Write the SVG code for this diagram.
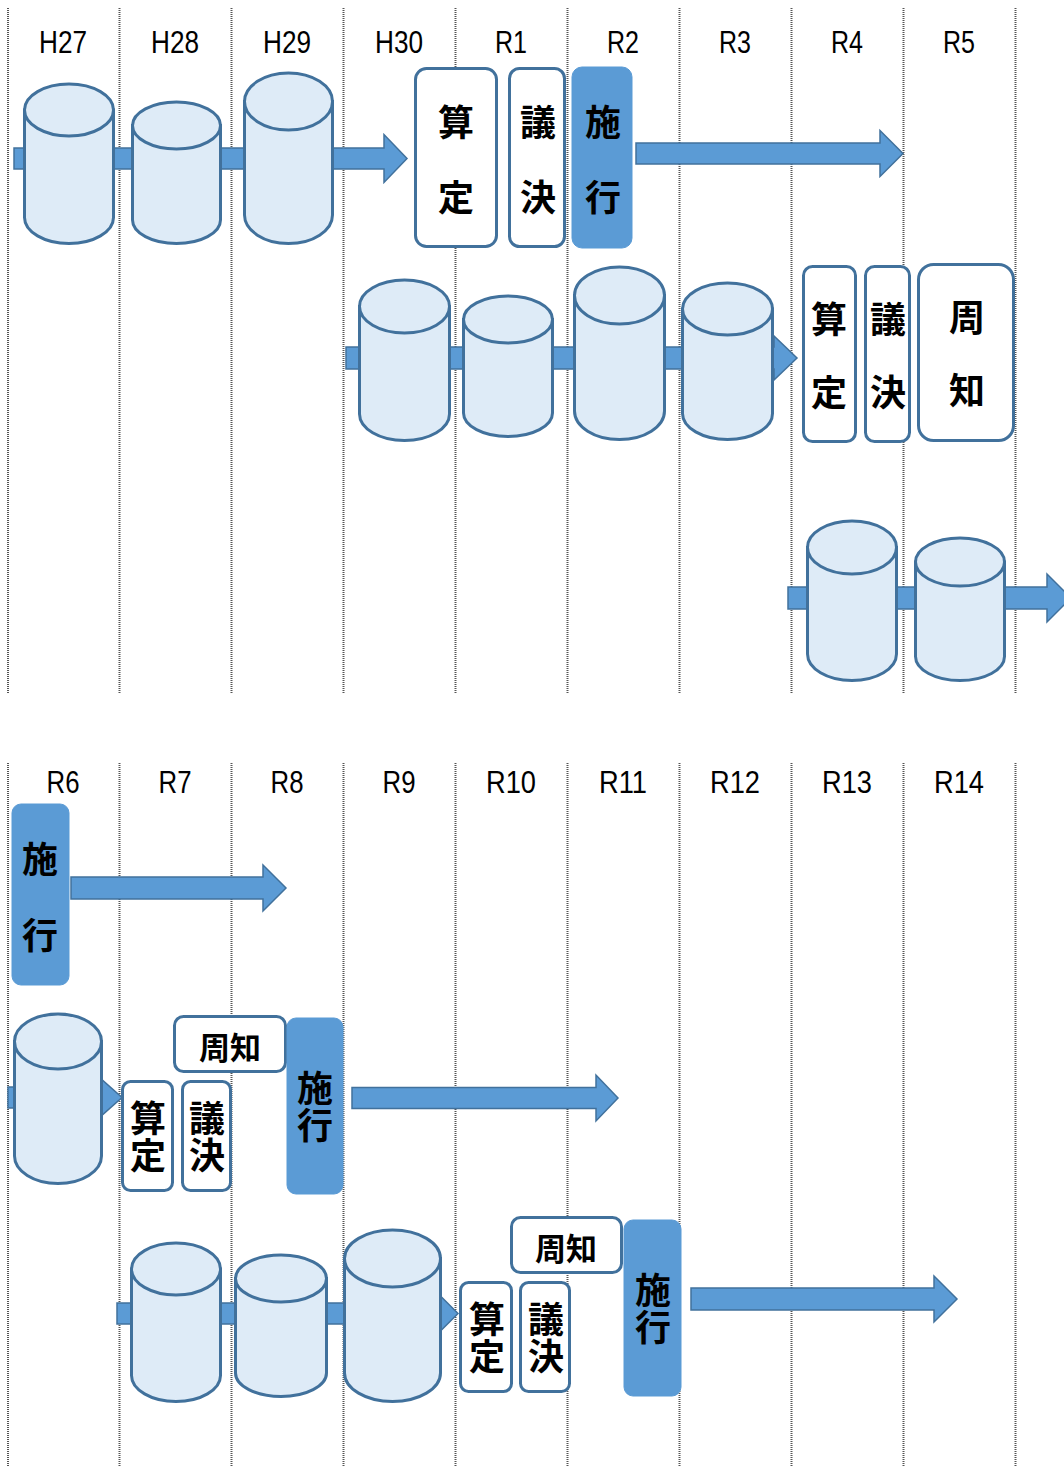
<svg xmlns="http://www.w3.org/2000/svg" width="1064" height="1466" viewBox="0 0 1064 1466">
<style>
.grid{stroke:#555;stroke-width:2;stroke-dasharray:1 1;fill:none}
.lbl{font-family:"Liberation Sans",Arial,sans-serif;font-size:32px;fill:#000;text-anchor:middle}
.cyl{fill:#deebf7;stroke:#41719c;stroke-width:3}
.arr{fill:#5b9bd5;stroke:#41719c;stroke-width:1.5}
.box{fill:#fff;stroke:#41719c;stroke-width:3}
.fbox{fill:#5b9bd5;stroke:#5b9bd5;stroke-width:1}
.jp{font-family:"Noto Sans CJK JP","Noto Sans CJK SC",sans-serif;font-weight:bold;font-size:36px;fill:#000;text-anchor:middle;dominant-baseline:central}
.jps{font-size:31px}
.vt{writing-mode:vertical-rl;letter-spacing:1px}
</style>
<rect width="1064" height="1466" fill="#fff"/>
<g id="grid">
<path class="grid" d="M8 8V693M119.5 8V693M231.5 8V693M343.5 8V693M455.5 8V693M567.5 8V693M679.5 8V693M791.5 8V693M903.5 8V693M1015.5 8V693"/>
<path class="grid" d="M8 763V1466M119.5 763V1466M231.5 763V1466M343.5 763V1466M455.5 763V1466M567.5 763V1466M679.5 763V1466M791.5 763V1466M903.5 763V1466M1015.5 763V1466"/>
</g>
<g id="labels">
<text class="lbl" x="63" y="53" textLength="48" lengthAdjust="spacingAndGlyphs">H27</text>
<text class="lbl" x="175" y="53" textLength="48" lengthAdjust="spacingAndGlyphs">H28</text>
<text class="lbl" x="287" y="53" textLength="48" lengthAdjust="spacingAndGlyphs">H29</text>
<text class="lbl" x="399" y="53" textLength="48" lengthAdjust="spacingAndGlyphs">H30</text>
<text class="lbl" x="511" y="53" textLength="32" lengthAdjust="spacingAndGlyphs">R1</text>
<text class="lbl" x="623" y="53" textLength="32" lengthAdjust="spacingAndGlyphs">R2</text>
<text class="lbl" x="735" y="53" textLength="32" lengthAdjust="spacingAndGlyphs">R3</text>
<text class="lbl" x="847" y="53" textLength="32" lengthAdjust="spacingAndGlyphs">R4</text>
<text class="lbl" x="959" y="53" textLength="32" lengthAdjust="spacingAndGlyphs">R5</text>
<text class="lbl" x="63" y="793" textLength="33" lengthAdjust="spacingAndGlyphs">R6</text>
<text class="lbl" x="175" y="793" textLength="33" lengthAdjust="spacingAndGlyphs">R7</text>
<text class="lbl" x="287" y="793" textLength="33" lengthAdjust="spacingAndGlyphs">R8</text>
<text class="lbl" x="399" y="793" textLength="33" lengthAdjust="spacingAndGlyphs">R9</text>
<text class="lbl" x="511" y="793" textLength="50" lengthAdjust="spacingAndGlyphs">R10</text>
<text class="lbl" x="623" y="793" textLength="48" lengthAdjust="spacingAndGlyphs">R11</text>
<text class="lbl" x="735" y="793" textLength="50" lengthAdjust="spacingAndGlyphs">R12</text>
<text class="lbl" x="847" y="793" textLength="50" lengthAdjust="spacingAndGlyphs">R13</text>
<text class="lbl" x="959" y="793" textLength="50" lengthAdjust="spacingAndGlyphs">R14</text>
</g>
<g id="connectors">
<path class="arr" d="M14 148V169H384V182.5L407 158.5L384 134.5V148Z"/>
<path class="arr" d="M636 143V164H880V176.5L903 153.5L880 130.5V143Z"/>
<path class="arr" d="M346 347V369H774V380L797 358L774 336V347Z"/>
<path class="arr" d="M788 587V609H1047V622L1071 598L1047 574V587Z"/>
<path class="arr" d="M71 877V899H263V911L286 888L263 865V877Z"/>
<path class="arr" d="M8 1087V1108H100V1117L122 1097.5L100 1078V1087Z"/>
<path class="arr" d="M352 1087.5V1108.5H596V1121L618 1098L596 1075V1087.5Z"/>
<path class="arr" d="M117 1303V1324H436V1335.5L458 1313.5L436 1291.5V1303Z"/>
<path class="arr" d="M691 1288V1310H934V1322L957 1299L934 1276V1288Z"/>
</g>
<g id="cyl-h27"><path class="cyl" d="M24.5 110V217.5A44.5 26 0 0 0 113.5 217.5V110Z"/><ellipse class="cyl" cx="69" cy="110" rx="44.5" ry="26"/></g>
<g id="cyl-h28"><path class="cyl" d="M132.5 125.5V220A44 23.5 0 0 0 220.5 220V125.5Z"/><ellipse class="cyl" cx="176.5" cy="125.5" rx="44" ry="23.5"/></g>
<g id="cyl-h29"><path class="cyl" d="M244.5 101.5V215A44 28.5 0 0 0 332.5 215V101.5Z"/><ellipse class="cyl" cx="288.5" cy="101.5" rx="44" ry="28.5"/></g>
<g id="box1-santei"><rect class="box" x="415.5" y="68.5" width="81" height="178" rx="11"/><text class="jp" x="456" y="120">算</text><text class="jp" x="456" y="195">定</text></g>
<g id="box1-giketsu"><rect class="box" x="509.5" y="68.5" width="55" height="178" rx="10"/><text class="jp" x="538" y="120">議</text><text class="jp" x="538" y="195">決</text></g>
<g id="box1-shiko"><rect class="fbox" x="572" y="67" width="60" height="181" rx="10"/><text class="jp" x="603" y="120">施</text><text class="jp" x="603" y="195">行</text></g>
<g id="cyl-d"><path class="cyl" d="M359.5 306.5V414A45 26.5 0 0 0 449.5 414V306.5Z"/><ellipse class="cyl" cx="404.5" cy="306.5" rx="45" ry="26.5"/></g>
<g id="cyl-e"><path class="cyl" d="M463.5 319.5V413A44.5 23.5 0 0 0 552.5 413V319.5Z"/><ellipse class="cyl" cx="508" cy="319.5" rx="44.5" ry="23.5"/></g>
<g id="cyl-f"><path class="cyl" d="M574.5 295.5V411A45 28.5 0 0 0 664.5 411V295.5Z"/><ellipse class="cyl" cx="619.5" cy="295.5" rx="45" ry="28.5"/></g>
<g id="cyl-g"><path class="cyl" d="M682.5 309V413.5A45 26 0 0 0 772.5 413.5V309Z"/><ellipse class="cyl" cx="727.5" cy="309" rx="45" ry="26"/></g>
<g id="box2-santei"><rect class="box" x="803.5" y="266.5" width="52" height="175" rx="9"/><text class="jp" x="829" y="317">算</text><text class="jp" x="829" y="390">定</text></g>
<g id="box2-giketsu"><rect class="box" x="865.5" y="266.5" width="44" height="175" rx="9"/><text class="jp" x="888" y="317">議</text><text class="jp" x="888" y="390">決</text></g>
<g id="box2-shuchi"><rect class="box" x="918.5" y="264.5" width="95" height="176" rx="15"/><text class="jp" x="967" y="315">周</text><text class="jp" x="967" y="388">知</text></g>
<g id="cyl-h"><path class="cyl" d="M807.5 547.5V654A44.5 26.5 0 0 0 896.5 654V547.5Z"/><ellipse class="cyl" cx="852" cy="547.5" rx="44.5" ry="26.5"/></g>
<g id="cyl-i"><path class="cyl" d="M915.5 562V656.5A44.5 24 0 0 0 1004.5 656.5V562Z"/><ellipse class="cyl" cx="960" cy="562" rx="44.5" ry="24"/></g>
<g id="box3-shiko"><rect class="fbox" x="12" y="804" width="57" height="181" rx="9"/><text class="jp" x="40" y="857">施</text><text class="jp" x="40" y="933">行</text></g>
<g id="cyl-j"><path class="cyl" d="M14.5 1041.5V1156A43.5 27.5 0 0 0 101.5 1156V1041.5Z"/><ellipse class="cyl" cx="58" cy="1041.5" rx="43.5" ry="27.5"/></g>
<g id="box4-shuchi"><rect class="box" x="174.5" y="1016.5" width="111" height="55" rx="9"/><text class="jp jps" x="230" y="1045">周知</text></g>
<g id="box4-santei"><rect class="box" x="122.5" y="1081.5" width="50" height="109" rx="8"/><text class="jp vt" x="148" y="1137">算定</text></g>
<g id="box4-giketsu"><rect class="box" x="182.5" y="1081.5" width="48" height="109" rx="8"/><text class="jp vt" x="207" y="1137">議決</text></g>
<g id="box4-shiko"><rect class="fbox" x="287" y="1018" width="56" height="176" rx="9"/><text class="jp vt" x="315" y="1107">施行</text></g>
<g id="cyl-k"><path class="cyl" d="M131.5 1269V1375.5A44.5 26 0 0 0 220.5 1375.5V1269Z"/><ellipse class="cyl" cx="176" cy="1269" rx="44.5" ry="26"/></g>
<g id="cyl-l"><path class="cyl" d="M235.5 1278.5V1373A45.5 23.5 0 0 0 326.5 1373V1278.5Z"/><ellipse class="cyl" cx="281" cy="1278.5" rx="45.5" ry="23.5"/></g>
<g id="cyl-m"><path class="cyl" d="M344.5 1258.5V1373A48 28.5 0 0 0 440.5 1373V1258.5Z"/><ellipse class="cyl" cx="392.5" cy="1258.5" rx="48" ry="28.5"/></g>
<g id="box5-shuchi"><rect class="box" x="511.5" y="1217.5" width="110" height="55" rx="9"/><text class="jp jps" x="566" y="1246">周知</text></g>
<g id="box5-santei"><rect class="box" x="460.5" y="1282.5" width="51" height="109" rx="8"/><text class="jp vt" x="487" y="1338">算定</text></g>
<g id="box5-giketsu"><rect class="box" x="520.5" y="1282.5" width="49" height="109" rx="8"/><text class="jp vt" x="546" y="1338">議決</text></g>
<g id="box5-shiko"><rect class="fbox" x="624" y="1220" width="57" height="176" rx="9"/><text class="jp vt" x="653" y="1309">施行</text></g>
</svg>
